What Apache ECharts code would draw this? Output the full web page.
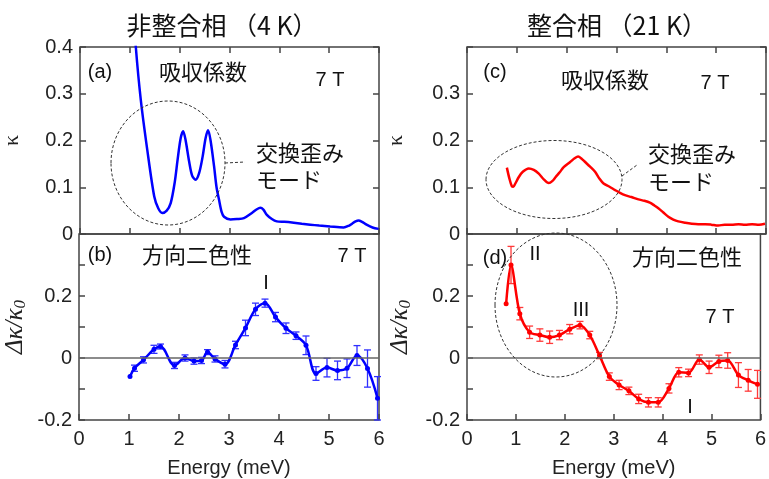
<!DOCTYPE html>
<html><head><meta charset="utf-8">
<script src="https://cdn.jsdelivr.net/npm/echarts/dist/echarts.min.js"></script>
<style>html,body{margin:0;padding:0;background:#fff}#c{width:769px;height:479px}</style>
</head><body><div id="c"></div>
<script>
// Panel (a): absorption coefficient, incommensurate phase (4 K)
const aE = [1.0,1.06,1.12,1.22,1.35,1.49,1.57,1.65,1.74,1.82,1.9,1.96,2.02,2.07,2.12,2.19,2.25,2.32,2.39,2.46,2.52,2.57,2.62,2.69,2.74,2.79,2.84,2.89,3.02,3.15,3.29,3.45,3.55,3.62,3.68,3.75,3.85,3.95,4.1,4.29,4.45,4.62,4.8,5.02,5.29,5.4,5.46,5.53,5.59,5.66,5.75,5.87,5.99];
const aK = [0.62,0.50,0.40,0.287,0.18,0.08,0.055,0.045,0.05,0.066,0.11,0.16,0.205,0.22,0.2,0.155,0.125,0.116,0.13,0.165,0.205,0.222,0.2,0.145,0.1,0.073,0.048,0.037,0.031,0.032,0.034,0.045,0.053,0.056,0.052,0.041,0.032,0.027,0.026,0.024,0.022,0.020,0.018,0.016,0.014,0.018,0.022,0.027,0.029,0.026,0.02,0.014,0.011];
// Panel (b): directional dichroism, 4 K
const bE = [1.02,1.11,1.29,1.5,1.63,1.91,2.12,2.3,2.45,2.57,2.72,2.92,3.13,3.33,3.53,3.72,3.93,4.14,4.34,4.54,4.74,4.96,5.17,5.36,5.56,5.77,5.97];
const bV = [-0.06,-0.033,-0.006,0.028,0.037,-0.024,0.0,-0.01,-0.008,0.019,-0.003,-0.02,0.042,0.097,0.157,0.177,0.132,0.096,0.072,0.041,-0.05,-0.031,-0.04,-0.033,0.008,-0.034,-0.13];
const bErr = [0,0.01,0.01,0.013,0.008,0.01,0.01,0.01,0.01,0.008,0.01,0.012,0.012,0.025,0.02,0.013,0.015,0.017,0.012,0.03,0.022,0.03,0.03,0.03,0.032,0.06,0.07];
// Panel (c): absorption coefficient, commensurate phase (21 K)
const cE = [0.8,0.85,0.9,0.93,0.97,1.04,1.12,1.24,1.34,1.44,1.54,1.64,1.71,1.78,1.86,1.94,2.07,2.16,2.23,2.3,2.37,2.47,2.57,2.66,2.74,2.86,2.97,3.07,3.17,3.3,3.44,3.56,3.67,3.76,3.84,3.94,4.04,4.14,4.24,4.38,4.51,4.64,4.78,4.9,5.04,5.17,5.31,5.45,5.58,5.72,5.86,5.98];
const cK = [0.142,0.119,0.102,0.101,0.108,0.122,0.133,0.14,0.137,0.129,0.117,0.109,0.113,0.122,0.132,0.143,0.154,0.162,0.166,0.161,0.154,0.144,0.133,0.118,0.108,0.101,0.094,0.088,0.083,0.079,0.074,0.071,0.067,0.061,0.055,0.046,0.037,0.031,0.027,0.024,0.022,0.021,0.021,0.02,0.018,0.020,0.020,0.021,0.020,0.021,0.020,0.022];
// Panel (d): directional dichroism, 21 K
const dE = [0.8,0.9,1.08,1.28,1.49,1.69,1.89,2.1,2.31,2.51,2.71,2.91,3.11,3.31,3.51,3.71,3.91,4.13,4.33,4.53,4.75,4.95,5.15,5.33,5.55,5.75,5.94];
const dV = [0.175,0.30,0.143,0.083,0.074,0.067,0.074,0.093,0.106,0.074,0.008,-0.06,-0.087,-0.106,-0.132,-0.143,-0.143,-0.098,-0.046,-0.048,-0.005,-0.03,-0.011,-0.008,-0.055,-0.072,-0.085];
const dErr = [0,0.06,0.02,0.02,0.02,0.02,0.015,0.015,0.012,0.012,0.01,0.012,0.015,0.012,0.015,0.015,0.015,0.015,0.015,0.012,0.015,0.02,0.02,0.025,0.04,0.035,0.045];

const titles = ['非整合相 （4 K）','整合相 （21 K）'];
const xName = 'Energy (meV)';

const LAT = '"Liberation Sans", Arial, sans-serif';
const CJK = '"Noto Sans CJK JP", sans-serif';
const AX = '#444';
const BLUE = '#0000ff', RED = '#ff0000';

const chart = echarts.init(document.getElementById('c'));

const grids = [
  {left:79, width:300, top:47, height:187},
  {left:79, width:300, top:234, height:189},
  {left:467, width:299, top:47, height:187},
  {left:467, width:299, top:234, height:189}
].map(g => Object.assign({show:true, borderColor:AX, borderWidth:1.5, backgroundColor:'transparent'}, g));

function xAx(gi, showLabels, pos) {
  return {
    type:'value', gridIndex:gi, min:0, max:6, interval:1, position:pos||'bottom',
    axisLine:{show:false, onZero:false},
    axisTick:{show:true, inside:true, length:6, lineStyle:{color:AX, width:1.5}},
    axisLabel:{show:showLabels, fontSize:20, fontFamily:LAT, color:'#222', margin:9},
    splitLine:{show:false},
    name: showLabels ? xName : '', nameLocation:'middle', nameGap:38,
    nameTextStyle:{fontSize:20, fontFamily:LAT, color:'#222'}
  };
}
function yAx(gi, min, max, fmt, name, nameGap, nameStyle, pos, showLabels) {
  return {
    type:'value', gridIndex:gi, min:min, max:max, interval:0.1, position:pos||'left',
    axisLine:{show:false, onZero:false},
    axisTick:{show:true, inside:true, length:6, lineStyle:{color:AX, width:1.5}},
    axisLabel:{show:showLabels!==false, fontSize:20, fontFamily:LAT, color:'#222', margin:7, formatter:fmt},
    splitLine:{show:false},
    name:name||'', nameLocation:'middle', nameRotate:90, nameGap:nameGap||50,
    nameTextStyle:nameStyle||{}
  };
}
const r10 = v => Math.round(v*10);
const fmtTopL = v => r10(v)===0 ? '0' : (r10(v)/10).toFixed(1);
const fmtTopR = v => r10(v)===4 ? '' : (r10(v)===0 ? '0' : (r10(v)/10).toFixed(1));
const fmtBot = v => { const k=r10(v); if (k===0) return '0'; if (k===2) return '0.2'; if (k===-2) return '-0.2'; return ''; };

const kStyle = {fontSize:22, fontFamily:'"Liberation Serif", serif', color:'#222'};
const dkName = '{i|Δκ/κ}{s|0}';
const dkStyle = {fontSize:25, fontFamily:'"Liberation Serif", serif', fontStyle:'italic', color:'#222',
  rich:{ i:{fontSize:25, fontStyle:'italic', fontFamily:'"Liberation Serif", serif', color:'#222'},
         s:{fontSize:17, fontStyle:'italic', fontFamily:'"Liberation Serif", serif', color:'#222', verticalAlign:'bottom', padding:[10,0,0,0]} } };

const xAxis = [
  xAx(0,false), xAx(1,true), xAx(2,false), xAx(3,true),
  xAx(0,false,'top'), xAx(2,false,'top')
];
const yAxis = [
  yAx(0,0,0.4,fmtTopL,'κ',57,kStyle),
  yAx(1,-0.2,0.4,fmtBot,dkName,50,dkStyle),
  yAx(2,0,0.4,fmtTopR,'κ',60,kStyle),
  yAx(3,-0.2,0.4,fmtBot,dkName,53,dkStyle),
  yAx(0,0,0.4,null,'',0,null,'right',false),
  yAx(2,0,0.4,null,'',0,null,'right',false)
];

function errSeries(xi, E, V, Er, color) {
  return {
    type:'custom', xAxisIndex:xi, yAxisIndex:xi, z:3,
    data: E.map((e,i)=>[e, V[i], Er[i]]),
    renderItem: function(params, api) {
      const x = api.value(0), y = api.value(1), e = api.value(2);
      if (!e) return;
      const cs = params.coordSys;
      const clampY = p => Math.max(cs.y, Math.min(cs.y+cs.height, p));
      const t = api.coord([x, y+e]), b = api.coord([x, y-e]);
      const ty = clampY(t[1]), by = clampY(b[1]);
      const hw = 3.5;
      const st = {stroke:color, lineWidth:1.3};
      return {type:'group', children:[
        {type:'line', shape:{x1:t[0], y1:ty, x2:t[0], y2:by}, style:st},
        {type:'line', shape:{x1:t[0]-hw, y1:ty, x2:t[0]+hw, y2:ty}, style:st},
        {type:'line', shape:{x1:t[0]-hw, y1:by, x2:t[0]+hw, y2:by}, style:st}
      ]};
    }
  };
}
const zeroLine = {silent:true, symbol:'none', label:{show:false},
  lineStyle:{color:'#666', width:1.5, type:'solid'}, data:[{yAxis:0}]};

const series = [
  {type:'line', xAxisIndex:0, yAxisIndex:0, data:aE.map((e,i)=>[e,aK[i]]), showSymbol:false, smooth:0.3, clip:true,
   lineStyle:{color:BLUE, width:2.5}, itemStyle:{color:BLUE}, z:4},
  {type:'line', xAxisIndex:1, yAxisIndex:1, data:bE.map((e,i)=>[e,bV[i]]), symbol:'circle', symbolSize:5, smooth:0.35, clip:true,
   lineStyle:{color:BLUE, width:2.5}, itemStyle:{color:BLUE}, z:4, markLine:zeroLine},
  errSeries(1, bE, bV, bErr, '#2f2fff'),
  {type:'line', xAxisIndex:2, yAxisIndex:2, data:cE.map((e,i)=>[e,cK[i]]), showSymbol:false, smooth:0.3, clip:true,
   lineStyle:{color:RED, width:2.5}, itemStyle:{color:RED}, z:4},
  {type:'line', xAxisIndex:3, yAxisIndex:3, data:dE.map((e,i)=>[e,dV[i]]), symbol:'circle', symbolSize:5, smooth:0.3, clip:true,
   lineStyle:{color:RED, width:2.5}, itemStyle:{color:RED}, z:4, markLine:zeroLine},
  errSeries(3, dE, dV, dErr, '#ff3a3a')
];

function txt(x, y, text, font, align) {
  return {type:'text', x:x, y:y, z:10, style:{text:text, font:font, fill:'#111', align:align||'center', verticalAlign:'middle'}};
}
const dash = {fill:'none', stroke:'#333', lineWidth:1, lineDash:[3,2]};
const graphic = [
  txt(222, 25, titles[0], '25px '+CJK),
  txt(617, 25, titles[1], '25px '+CJK),
  txt(100, 72, '(a)', '20px '+LAT),
  txt(203, 72, '吸収係数', '22px '+CJK),
  txt(330, 80, '7 T', '20px '+LAT),
  txt(256, 153, '交換歪み', '22px '+CJK, 'left'),
  txt(256, 180, 'モード', '22px '+CJK, 'left'),
  txt(100, 255, '(b)', '20px '+LAT),
  txt(197, 255, '方向二色性', '22px '+CJK),
  txt(352, 256, '7 T', '20px '+LAT),
  txt(266, 283, 'I', '20px '+LAT),
  txt(495, 72, '(c)', '20px '+LAT),
  txt(605, 80, '吸収係数', '22px '+CJK),
  txt(715, 83, '7 T', '20px '+LAT),
  txt(648, 154, '交換歪み', '22px '+CJK, 'left'),
  txt(648, 182, 'モード', '22px '+CJK, 'left'),
  txt(495, 258, '(d)', '20px '+LAT),
  txt(535, 254, 'II', '20px '+LAT),
  txt(687, 257, '方向二色性', '22px '+CJK),
  txt(581, 310, 'III', '20px '+LAT),
  txt(720, 317, '7 T', '20px '+LAT),
  txt(690, 407, 'I', '20px '+LAT),
  {type:'ellipse', z:9, shape:{cx:168, cy:163, rx:57, ry:62}, style:dash},
  {type:'line', z:9, shape:{x1:225, y1:163, x2:245, y2:162}, style:dash},
  {type:'ellipse', z:9, shape:{cx:554, cy:179.5, rx:68, ry:39}, style:dash},
  {type:'line', z:9, shape:{x1:622, y1:176, x2:637, y2:165}, style:dash},
  {type:'ellipse', z:9, shape:{cx:556, cy:305, rx:61, ry:72}, style:dash}
];

chart.setOption({
  animation:false,
  backgroundColor:'#fff',
  grid:grids, xAxis:xAxis, yAxis:yAxis, series:series, graphic:graphic
});
</script></body></html>
